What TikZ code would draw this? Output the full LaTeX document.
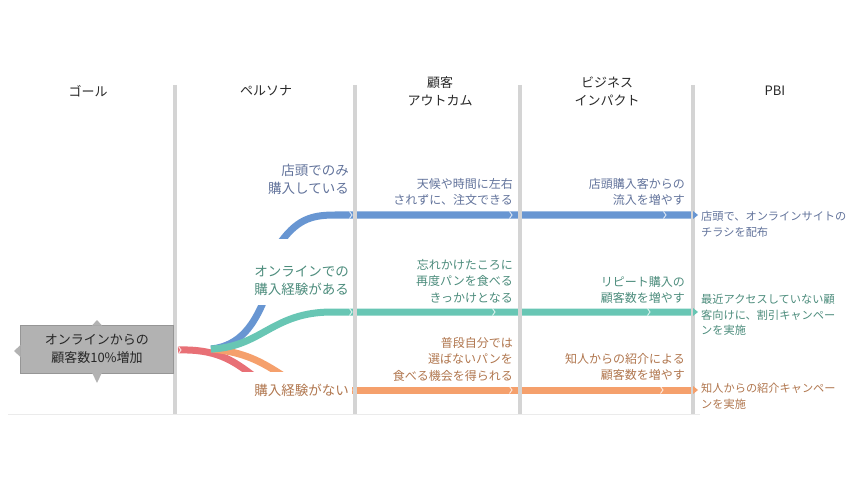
\documentclass[tikz,border=0pt]{standalone}
\usepackage{fontspec}
\setmainfont{Noto Sans CJK JP}
\definecolor{sepgray}{RGB}{212,212,212}
\definecolor{hdrtext}{RGB}{40,40,40}
\definecolor{blueline}{RGB}{104,150,210}
\definecolor{greenline}{RGB}{104,198,180}
\definecolor{orangeline}{RGB}{245,160,108}
\definecolor{redline}{RGB}{232,112,118}
\definecolor{bluetext}{RGB}{98,115,155}
\definecolor{greentext}{RGB}{76,140,124}
\definecolor{orangetext}{RGB}{176,118,78}
\definecolor{goalfill}{RGB}{178,178,178}
\definecolor{goaldraw}{RGB}{150,150,150}
\begin{document}
\begin{tikzpicture}[x=1pt,y=-1pt,
  flow/.style={line width=7pt},
  sepline/.style={line width=3.5pt, draw=sepgray},
  chev/.style={draw=white, line width=0.9pt, opacity=0.8},
  hdr/.style={font=\fontsize{13}{18}\selectfont, text=hdrtext, align=center},
  persona/.style={font=\fontsize{13.5}{18}\selectfont, align=right, anchor=east, inner sep=0pt},
  midlabel/.style={font=\fontsize{12}{16.5}\selectfont, align=right, anchor=east, inner sep=0pt},
  pbilabel/.style={font=\fontsize{11.2}{15.5}\selectfont, align=left, anchor=west, inner sep=0pt},
  tipmark/.style={inner sep=0pt}]
\useasboundingbox (0,0) rectangle (860,484);

% faint bottom rule
\draw[draw=black!8, line width=0.6pt] (8,414) -- (700,414);

% headers
\node[hdr] (hgoal) at (88,91) {ゴール};
\node[hdr] (hpersona) at (266,91) {ペルソナ};
\node[hdr] (houtcome) at (440,91) {顧客\\アウトカム};
\node[hdr] (himpact) at (607,91) {ビジネス\\インパクト};
\node[hdr] (hpbi) at (775,91) {PBI};

% coordinates for flows
\coordinate (rstart) at (178,350);
\coordinate (fork) at (211,349);
\coordinate (bend) at (693,215);
\coordinate (gend) at (693,312);
\coordinate (oend) at (693,390);

% red flow
\begin{scope}
\clip (150,300) rectangle (360,371);
\draw[flow, draw=redline] (rstart) .. controls (215,349) and (232,359) .. (256,378);
\end{scope}
% orange short flow
\begin{scope}
\clip (150,300) rectangle (360,371);
\draw[flow, draw=orangeline] (fork) .. controls (245,352) and (262,362) .. (285,377);
\end{scope}
% blue short flow
\begin{scope}
\clip (150,305) rectangle (360,400);
\draw[flow, draw=blueline] (fork) .. controls (240,346) and (254,325) .. (265,298);
\end{scope}
% green flow
\draw[flow, draw=greenline] (fork) .. controls (262,347) and (272,312) .. (332,312) -- (gend);
% blue upper flow
\begin{scope}
\clip (250,150) rectangle (720,238);
\draw[flow, draw=blueline] (278,246) .. controls (296,220) and (310,215) .. (335,215) -- (bend);
\end{scope}
% orange long flow
\draw[flow, draw=orangeline] (352,390) -- (oend);

% chevrons
\foreach \x/\y in {352/215,512/215,666/215,352/312,495/312,650/312,352/390,512/390,663/390,181/350}{
  \draw[chev] (\x-2.5,\y-3.5) -- (\x,\y) -- (\x-2.5,\y+3.5);
}

% separators
\foreach \x/\n in {175/s1,355/s2,520/s3,693/s4}{
  \coordinate (\n top) at (\x,85);
  \coordinate (\n bot) at (\x,414);
  \draw[sepline] (\n top) -- (\n bot);
}

% end tips
\fill[blueline] (693,211) -- (698,215) -- (693,219) -- cycle;
\fill[greenline] (693,308) -- (698,312) -- (693,316) -- cycle;
\fill[orangeline] (693,386) -- (698,390) -- (693,394) -- cycle;

% goal box
\node[draw=goaldraw, fill=goalfill, line width=0.8pt, minimum width=153pt, minimum height=48pt,
      inner sep=0pt, align=center, font=\fontsize{13}{18}\selectfont, text=black!85] (goal) at (97,349)
      {オンラインからの\\顧客数10\%増加};
\fill[goalfill] (92,325.5) -- (97,320) -- (102,325.5) -- cycle;
\fill[goalfill] (92,372.5) -- (97,383) -- (102,372.5) -- cycle;
\fill[goalfill] (20.5,345) -- (14,351) -- (20.5,357) -- cycle;

% persona labels
\node[persona, text=bluetext] (p1) at (349,179) {店頭でのみ\\購入している};
\node[persona, text=greentext] (p2) at (349,281) {オンラインでの\\購入経験がある};
\node[persona, text=orangetext] (p3) at (349,390) {購入経験がない};

% outcome labels
\node[midlabel, text=bluetext] (o1) at (513,192) {天候や時間に左右\\されずに、注文できる};
\node[midlabel, text=greentext] (o2) at (513,281) {忘れかけたころに\\再度パンを食べる\\きっかけとなる};
\node[midlabel, text=orangetext] (o3) at (513,359) {普段自分では\\選ばないパンを\\食べる機会を得られる};

% impact labels
\node[midlabel, text=bluetext] (i1) at (685,192) {店頭購入客からの\\流入を増やす};
\node[midlabel, text=greentext] (i2) at (685,290) {リピート購入の\\顧客数を増やす};
\node[midlabel, text=orangetext] (i3) at (685,367) {知人からの紹介による\\顧客数を増やす};

% PBI labels
\node[pbilabel, text=bluetext] (b1) at (701,224) {店頭で、オンラインサイトの\\チラシを配布};
\node[pbilabel, text=greentext] (b2) at (701,315) {最近アクセスしていない顧\\客向けに、割引キャンペー\\ンを実施};
\node[pbilabel, text=orangetext] (b3) at (701,396) {知人からの紹介キャンペー\\ンを実施};
\end{tikzpicture}
\end{document}
